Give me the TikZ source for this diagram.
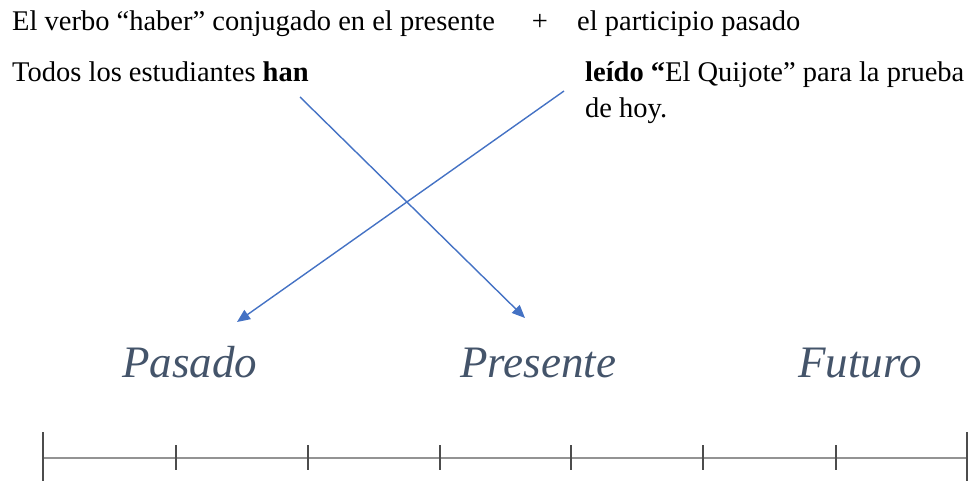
\documentclass[tikz,border=0pt]{standalone}
\usepackage{fontspec}
\setmainfont{Liberation Serif}
\usepackage{tikz}
\usetikzlibrary{arrows.meta,positioning}
\definecolor{arrblue}{HTML}{4472C4}
\definecolor{timegray}{HTML}{44546A}
\tikzset{
  txt/.style  ={inner sep=0pt, anchor=base west, font=\fontsize{28.5}{33}\selectfont},
  tense/.style={inner sep=0pt, anchor=base west, text=timegray,
                font=\fontsize{45}{50}\selectfont\itshape},
  ar/.style   ={-{Triangle[length=13pt,width=11pt]}, line width=1.4pt, draw=arrblue},
  axis/.style ={line width=2.6pt, draw=gray!85},
  tick/.style ={line width=1.6pt, draw=black!70}
}
\begin{document}
\begin{tikzpicture}[x=1pt,y=-1pt]
\useasboundingbox (0,0) rectangle (968,481);

% formula line
\node[txt] (verbo) at (12,31) {El verbo “haber” conjugado en el presente};
\node[txt, anchor=base] (mas) at (540,31) {+};
\node[txt] (part) at (577,31) {el participio pasado};

% example sentence
\node[txt] (todos) at (12,82) {Todos los estudiantes \textbf{han}};
\node[txt] (leido) at (585,82) {\textbf{leído “}El Quijote” para la prueba};
\node[txt] (hoy) at (585,118) {de hoy.};

% tenses
\node[tense] (pasado)   at (122,377) {Pasado};
\node[tense] (presente) at (460,377) {Presente};
\node[tense] (futuro)   at (798,377) {Futuro};

% arrows
\coordinate (han-end)   at (300,97);
\coordinate (leido-end) at (564,91);
\coordinate (pres-tip)  at (525,318);
\coordinate (pas-tip)   at (237,322);
\draw[ar] (han-end) -- (pres-tip);
\draw[ar] (leido-end) -- (pas-tip);

% time line
\coordinate (tl-a) at (43,458);
\coordinate (tl-b) at (967,458);
\draw[axis] (tl-a) -- (tl-b);
\draw[tick] (43,432) -- (43,481);
\draw[tick] (967,432) -- (967,481);
\foreach \x in {176,308,440,571,703,836}
  \draw[tick] (\x,445) -- (\x,470);
\end{tikzpicture}
\end{document}
